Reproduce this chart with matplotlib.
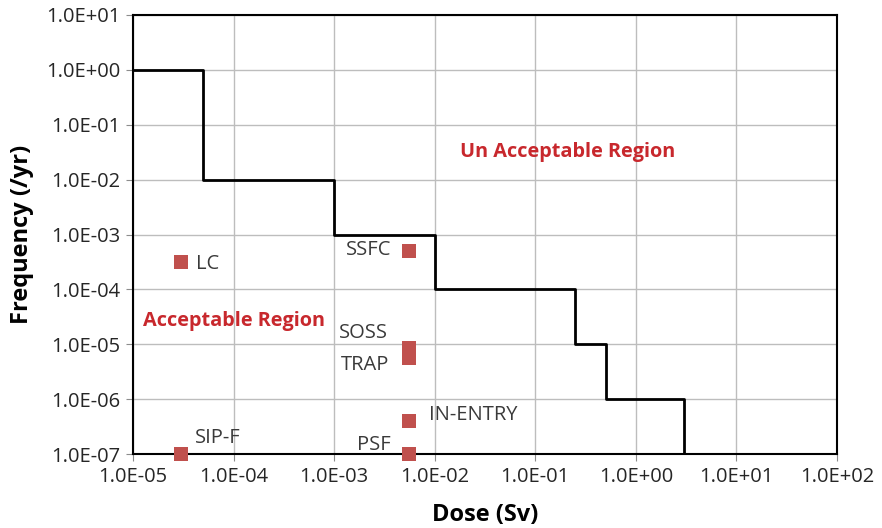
import matplotlib
matplotlib.use("Agg")
import matplotlib.pyplot as plt
from matplotlib.ticker import FuncFormatter, LogLocator, NullLocator

plt.rcParams['font.family'] = ['Open Sans', 'DejaVu Sans']

# acceptance criterion (step curve)
step_dose = [1e-5, 5e-5, 5e-5, 1e-3, 1e-3, 1e-2, 1e-2, 0.25, 0.25, 0.5, 0.5, 3.0, 3.0]
step_freq = [1.0, 1.0, 1e-2, 1e-2, 1e-3, 1e-3, 1e-4, 1e-4, 1e-5, 1e-5, 1e-6, 1e-6, 1e-7]

# events
events = ["LC", "SSFC", "SOSS", "TRAP", "IN-ENTRY", "PSF", "SIP-F"]
event_dose = [3e-5, 5.5e-3, 5.5e-3, 5.5e-3, 5.5e-3, 5.5e-3, 3e-5]
event_freq = [3.2e-4, 5e-4, 8.5e-6, 5.5e-6, 4e-7, 1e-7, 1e-7]
label_offsets = [(15, -2), (-17, 1), (-21, 15), (-19, -7), (20, 6), (-18, 9), (14, 16)]
label_ha = ["left", "right", "right", "right", "left", "right", "left"]

fig = plt.figure(figsize=(8.82, 5.28), dpi=100)
ax = fig.add_axes([133 / 882, 74 / 528, 704 / 882, 439 / 528])

ax.set_xscale("log")
ax.set_yscale("log")
ax.set_xlim(1e-5, 1e2)
ax.set_ylim(1e-7, 1e1)

ax.xaxis.set_major_locator(LogLocator(base=10, numticks=20))
ax.yaxis.set_major_locator(LogLocator(base=10, numticks=20))
ax.xaxis.set_minor_locator(NullLocator())
ax.yaxis.set_minor_locator(NullLocator())
fmt = FuncFormatter(lambda v, p: f"{v:.1E}")
ax.xaxis.set_major_formatter(fmt)
ax.yaxis.set_major_formatter(fmt)

ax.grid(True, color="#bdbdbd", lw=1)
ax.set_axisbelow(True)
ax.tick_params(axis="both", direction="out", length=5, color="#8c8c8c",
               labelsize=14.5, labelcolor="#262626", pad=4)
for s in ax.spines.values():
    s.set_color("black")
    s.set_linewidth(1.5)

ax.plot(step_dose, step_freq, color="black", lw=2, zorder=3)

ax.scatter(event_dose, event_freq, marker="s", s=90, color="#c0504d",
           zorder=4, clip_on=False, linewidths=0)
for name, x, y, off, ha in zip(events, event_dose, event_freq, label_offsets, label_ha):
    ax.annotate(name, (x, y), xytext=off, textcoords="offset pixels",
                ha=ha, va="center", fontsize=14.5, color="#3a3a3a")

ax.text(0.618, 0.688, "Un Acceptable Region", transform=ax.transAxes,
        ha="center", va="center", fontsize=14.3, fontweight="bold", color="#c8282d")
ax.text(0.143, 0.303, "Acceptable Region", transform=ax.transAxes,
        ha="center", va="center", fontsize=14.3, fontweight="bold", color="#c8282d")

ax.set_xlabel("Dose (Sv)", fontsize=17, fontweight="bold")
ax.set_ylabel("Frequency (/yr)", fontsize=17, fontweight="bold")
ax.xaxis.set_label_coords(0.5, -0.112)
ax.yaxis.set_label_coords(-0.141, 0.5)

fig.savefig("out.png", dpi=100)
